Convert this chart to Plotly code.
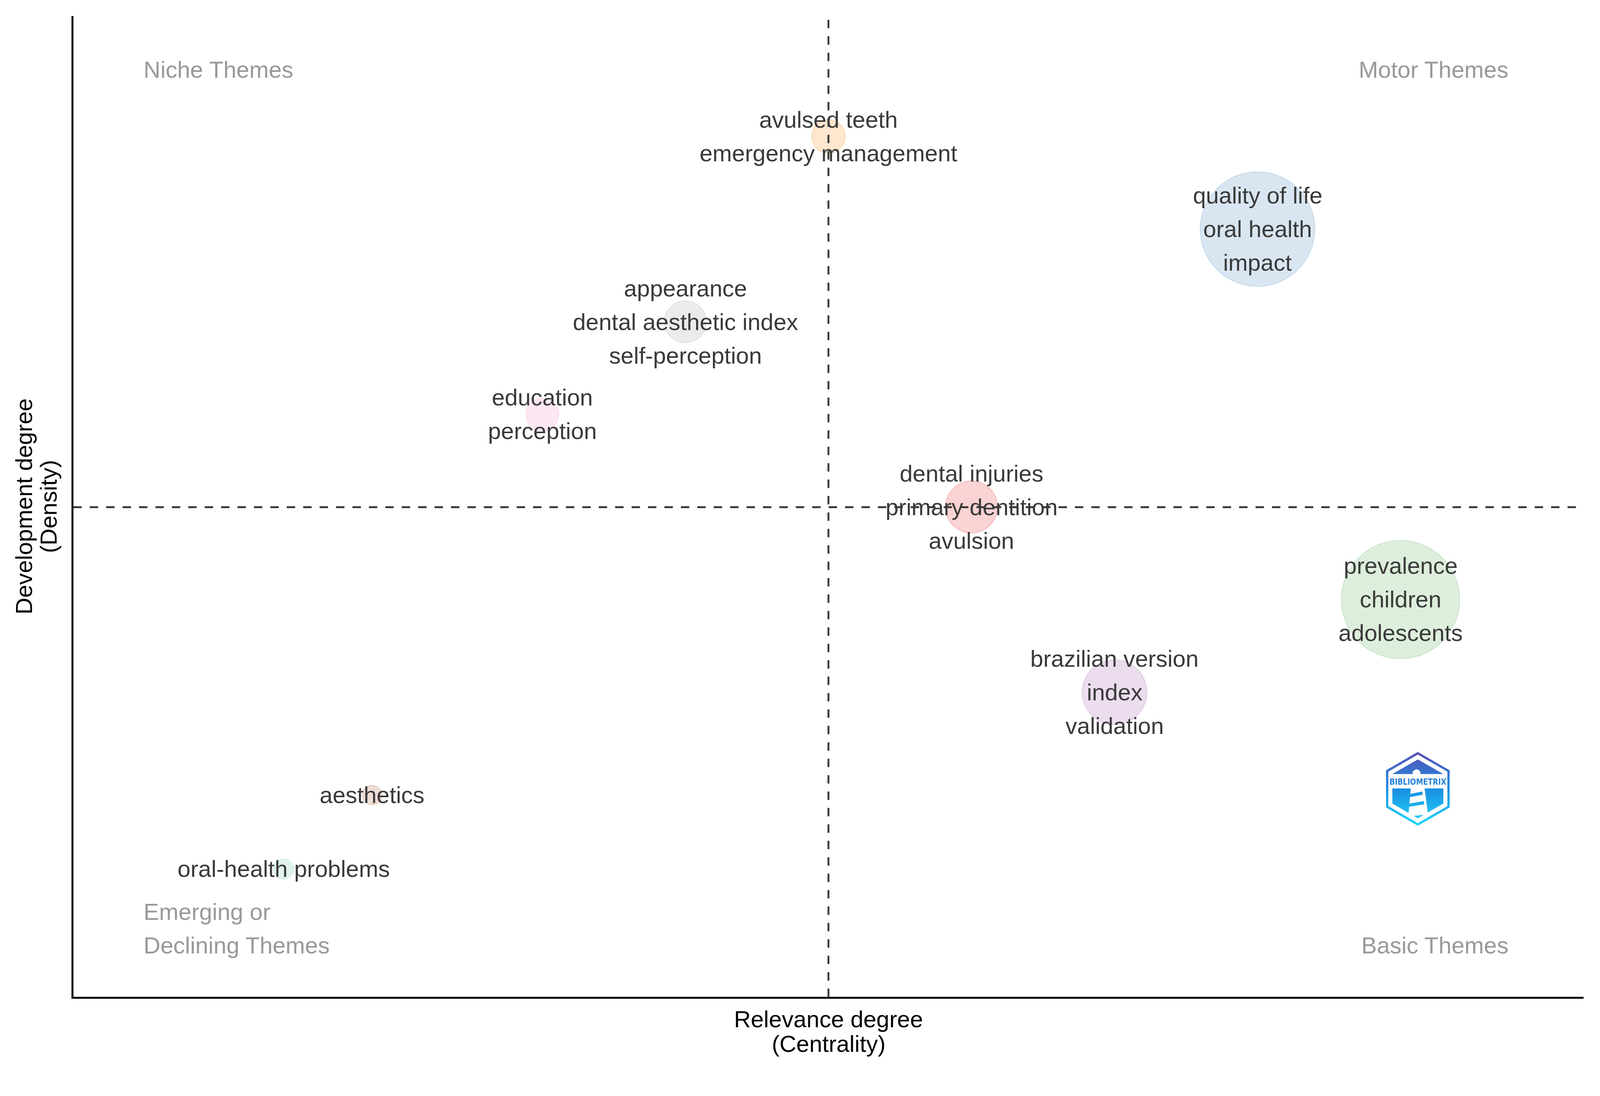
import base64
import numpy as np
import plotly.graph_objects as go

# thematic map clusters (bibliometrix colour order)
cluster_words = [
    ["dental injuries", "primary dentition", "avulsion"],
    ["quality of life", "oral health", "impact"],
    ["prevalence", "children", "adolescents"],
    ["brazilian version", "index", "validation"],
    ["avulsed teeth", "emergency management"],
    ["aesthetics"],
    ["education", "perception"],
    ["appearance", "dental aesthetic index", "self-perception"],
    ["oral-health problems"],
]
rank_centrality = [6, 8, 9, 7, 5, 1.81, 3, 4, 1.19]
rank_density = [5, 8, 4, 3, 9, 1.89, 6, 7, 1.09]
freq = [56, 154, 160, 76, 27, 5, 26, 40, 6]
cluster_colors = ["#E41A1C", "#377EB8", "#4DAF4A", "#984EA3", "#FF7F00",
                  "#A65628", "#F781BF", "#999999", "#66C2A5"]

quadrants = ["Niche Themes", "Motor Themes", "Emerging or<br>Declining Themes", "Basic Themes"]
x_title = ["Relevance degree", "(Centrality)"]
y_title = ["Development degree", "(Density)"]

W, H = 4190, 2806
ML, MR, MT, MB = 192, 43, 42, 195
PW, PH = W - ML - MR, H - MT - MB
FONT = "Liberation Sans, Arial, sans-serif"
FS = 61
LINE = 88


def rgba(hex_color, a):
    h = hex_color.lstrip('#')
    r, g, b = int(h[0:2], 16), int(h[2:4], 16), int(h[4:6], 16)
    return f"rgba({r},{g},{b},{a})"


# scale_radius style mapping, freq -> radius in px
f = np.array(freq, dtype=float)
r_lo, r_hi = 25.5, 155
radius = r_lo + (f - f.min()) / (f.max() - f.min()) * (r_hi - r_lo)

fig = go.Figure()
fig.add_trace(go.Scatter(
    x=rank_centrality, y=rank_density, mode='markers',
    marker=dict(size=2 * radius, sizemode='diameter',
                color=[rgba(c, 0.27) for c in cluster_colors],
                line=dict(color=[rgba(c, 0.35) for c in cluster_colors], width=2)),
    hoverinfo='skip', showlegend=False
))

# cluster labels, one annotation per line
for words, xv, yv in zip(cluster_words, rank_centrality, rank_density):
    n = len(words)
    for k, w in enumerate(words):
        fig.add_annotation(x=xv, y=yv, text=w, showarrow=False,
                           xanchor='center', yanchor='middle',
                           yshift=((n - 1) / 2 - k) * LINE,
                           font=dict(family=FONT, size=FS, color='#3a3a3a'))

# mean lines
mx = float(np.mean(rank_centrality))
my = float(np.mean(rank_density))
dash = dict(color='#3c3c3c', width=5, dash='22px,21px')
fig.add_shape(type='line', xref='x', yref='paper', x0=mx, x1=mx, y0=0, y1=1, line=dash, layer='above')
fig.add_shape(type='line', xref='paper', yref='y', x0=0, x1=1, y0=my, y1=my, line=dash, layer='above')


def px_x(p):
    return (p - ML) / PW


def px_y(p):
    return (H - MB - p) / PH


# quadrant labels
grey = dict(family=FONT, size=FS, color='#999999')
fig.add_annotation(xref='paper', yref='paper', x=px_x(374), y=px_y(183), text=quadrants[0],
                   showarrow=False, xanchor='left', yanchor='middle', font=grey)
fig.add_annotation(xref='paper', yref='paper', x=px_x(3952), y=px_y(183), text=quadrants[1],
                   showarrow=False, xanchor='right', yanchor='middle', font=grey)
for k, t in enumerate(quadrants[2].split('<br>')):
    fig.add_annotation(xref='paper', yref='paper', x=px_x(374), y=px_y(2388 + k * LINE), text=t,
                       showarrow=False, xanchor='left', yanchor='middle', font=grey)
fig.add_annotation(xref='paper', yref='paper', x=px_x(3952), y=px_y(2476), text=quadrants[3],
                   showarrow=False, xanchor='right', yanchor='middle', font=grey)

# axis titles
black = dict(family=FONT, size=FS, color='black')
for k, t in enumerate(x_title):
    fig.add_annotation(xref='paper', yref='paper', x=0.5, y=0, text=t, showarrow=False,
                       xanchor='center', yanchor='middle', yshift=-(58 + k * 65), font=black)
for k, t in enumerate(y_title):
    fig.add_annotation(xref='paper', yref='paper', x=0, y=0.5, text=t, showarrow=False,
                       textangle=-90, xanchor='center', yanchor='middle',
                       xshift=-(130 - k * 65), font=black)

# bibliometrix logo
logo_svg = """<svg xmlns='http://www.w3.org/2000/svg' viewBox='0 0 100 115.5' width='200' height='231'>
<defs><linearGradient id='g' gradientUnits='userSpaceOnUse' x1='0' y1='0' x2='0' y2='115.5'>
<stop offset='0' stop-color='#5a50b6'/><stop offset='0.5' stop-color='#1b8ee1'/><stop offset='1' stop-color='#1fd9fb'/>
</linearGradient></defs>
<polygon points='50,1.9 98.1,29.7 98.1,85.8 50,113.6 1.9,85.8 1.9,29.7' fill='none' stroke='url(#g)' stroke-width='3.6'/>
<polygon points='50,11.5 90,34.6 10,34.6' fill='url(#g)'/>
<polygon points='10,57 90,57 90,80.8 50,103.9 10,80.8' fill='url(#g)'/>
<path d='M42,35 L42,31 Q48,23 54,31 L54,35 Z' fill='white'/>
<polygon points='39,56 60,53 66,98 35,101' fill='white'/>
<polygon points='36.5,66 57,62 57.6,67 36.8,71' fill='url(#g)'/>
<polygon points='35.8,81 59.5,77 60.1,82 35.9,86' fill='url(#g)'/>
<text x='50' y='51' text-anchor='middle' font-family='DejaVu Sans' font-weight='bold' font-size='13.5'
 textLength='89' lengthAdjust='spacingAndGlyphs' fill='url(#g)'>BIBLIOMETRIX</text>
</svg>"""
logo_src = "data:image/svg+xml;base64," + base64.b64encode(logo_svg.encode()).decode()
fig.add_layout_image(source=logo_src, xref='paper', yref='paper',
                     x=px_x(3713), y=px_y(2066), sizex=167 / PW, sizey=193 / PH,
                     xanchor='center', yanchor='middle', sizing='contain', layer='above')

axis_common = dict(showgrid=False, zeroline=False, showticklabels=False, ticks='',
                   showline=True, linecolor='black', linewidth=5)
fig.update_layout(
    width=W, height=H, autosize=False,
    margin=dict(l=ML, r=MR, t=MT, b=MB),
    paper_bgcolor='white', plot_bgcolor='white',
    xaxis=dict(range=[-0.28, 10.28], **axis_common),
    yaxis=dict(range=[-0.29, 10.30], **axis_common),
    showlegend=False,
)

# fit the fixed-size figure into whatever viewport the page gets
fit_js = """
document.body.style.margin = '0';
document.body.style.overflow = 'hidden';
var gd = document.getElementById('{plot_id}');
var s = Math.min(window.innerWidth / %d, window.innerHeight / %d);
gd.style.transformOrigin = '0 0';
gd.style.transform = 'scale(' + s + ')';
""" % (W, H)

fig.write_html("out.html", config={'displayModeBar': False}, post_script=fit_js)
